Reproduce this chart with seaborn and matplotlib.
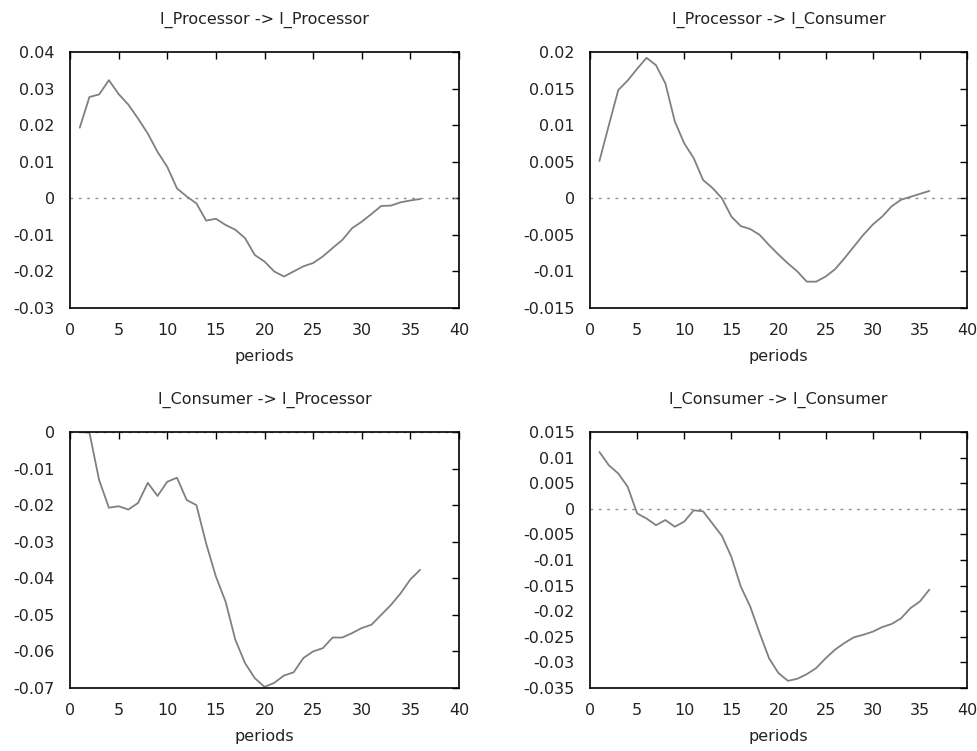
import numpy as np
import pandas as pd
import matplotlib
matplotlib.use("Agg")
import matplotlib.pyplot as plt
import seaborn as sns

periods = list(range(1, 37))

proc_to_proc = [0.0193, 0.0277, 0.0284, 0.0323, 0.0285, 0.0256, 0.0218, 0.0177, 0.0127, 0.0086,
                0.0027, 0.0005, -0.0014, -0.0061, -0.0056, -0.0073, -0.0086, -0.0109, -0.0155, -0.0173,
                -0.0200, -0.0214, -0.0200, -0.0186, -0.0177, -0.0159, -0.0136, -0.0114, -0.0082, -0.0064,
                -0.0043, -0.0021, -0.0020, -0.0011, -0.0006, -0.0002]
proc_to_cons = [0.0051, 0.0100, 0.0148, 0.0161, 0.0177, 0.0192, 0.0182, 0.0157, 0.0105, 0.0075,
                0.0055, 0.0025, 0.0014, 0.0000, -0.0025, -0.0038, -0.0042, -0.0050, -0.0064, -0.0077,
                -0.0089, -0.0100, -0.0114, -0.0114, -0.0107, -0.0097, -0.0082, -0.0066, -0.0050, -0.0036,
                -0.0025, -0.0011, -0.0002, 0.0002, 0.0006, 0.0010]
cons_to_proc = [0.0000, -0.0002, -0.0132, -0.0207, -0.0203, -0.0212, -0.0194, -0.0139, -0.0175, -0.0136,
                -0.0125, -0.0186, -0.0200, -0.0305, -0.0395, -0.0464, -0.0568, -0.0632, -0.0673, -0.0697,
                -0.0686, -0.0666, -0.0657, -0.0618, -0.0600, -0.0591, -0.0562, -0.0562, -0.0550, -0.0536,
                -0.0527, -0.0500, -0.0473, -0.0441, -0.0403, -0.0377]
cons_to_cons = [0.0111, 0.0085, 0.0069, 0.0043, -0.0009, -0.0019, -0.0032, -0.0022, -0.0035, -0.0025,
                -0.0003, -0.0005, -0.0029, -0.0053, -0.0094, -0.0152, -0.0191, -0.0243, -0.0292, -0.0321,
                -0.0336, -0.0332, -0.0323, -0.0311, -0.0292, -0.0275, -0.0262, -0.0251, -0.0246, -0.0240,
                -0.0231, -0.0225, -0.0214, -0.0194, -0.0181, -0.0158]

titles = ["l_Processor -> l_Processor", "l_Processor -> l_Consumer",
          "l_Consumer -> l_Processor", "l_Consumer -> l_Consumer"]
series = [proc_to_proc, proc_to_cons, cons_to_proc, cons_to_cons]
ylims = [(-0.03, 0.04), (-0.015, 0.02), (-0.07, 0.0), (-0.035, 0.015)]
ysteps = [0.01, 0.005, 0.01, 0.005]
ylabels = [["-0.03", "-0.02", "-0.01", "0", "0.01", "0.02", "0.03", "0.04"],
           ["-0.015", "-0.01", "-0.005", "0", "0.005", "0.01", "0.015", "0.02"],
           ["-0.07", "-0.06", "-0.05", "-0.04", "-0.03", "-0.02", "-0.01", "0"],
           ["-0.035", "-0.03", "-0.025", "-0.02", "-0.015", "-0.01", "-0.005", "0", "0.005", "0.01", "0.015"]]
xticks = [0, 5, 10, 15, 20, 25, 30, 35, 40]

sns.set_theme(style="white")
plt.rcParams['font.family'] = ['DejaVu Sans']

fig = plt.figure(figsize=(9.77, 7.51), dpi=100)
W, H = 977, 751
boxes = [(70, 52, 459, 308), (590, 52, 967, 308), (70, 432, 459, 688), (590, 432, 967, 688)]

for i in range(4):
    x0, y0, x1, y1 = boxes[i]
    ax = fig.add_axes([x0 / W, 1 - y1 / H, (x1 - x0) / W, (y1 - y0) / H])
    df = pd.DataFrame({"periods": periods, "value": series[i]})
    ax.axhline(0, color="#909090", lw=1.0, ls=(0, (2, 4)), zorder=1)
    sns.lineplot(data=df, x="periods", y="value", ax=ax, color="#808080", lw=1.3, zorder=2)
    ax.set_xlim(0, 40)
    ax.set_ylim(*ylims[i])
    lo, hi = ylims[i]
    n = len(ylabels[i])
    ticks = [lo + k * ysteps[i] for k in range(n)]
    ax.set_yticks(ticks)
    ax.set_yticklabels(ylabels[i])
    ax.set_xticks(xticks)
    ax.set_xticklabels([str(t) for t in xticks])
    ax.tick_params(direction="in", length=5, width=1, colors="black", labelcolor="#222222",
                   labelsize=11.5, top=True, right=True, pad=11)
    for s in ax.spines.values():
        s.set_color("black")
        s.set_linewidth(1.2)
    ax.set_xlabel("periods", fontsize=11.5, color="#222222", labelpad=8)
    ax.set_ylabel("")
    ax.set_title(titles[i], fontsize=11.5, color="#222222", pad=20)

fig.savefig("out.png", dpi=100)
